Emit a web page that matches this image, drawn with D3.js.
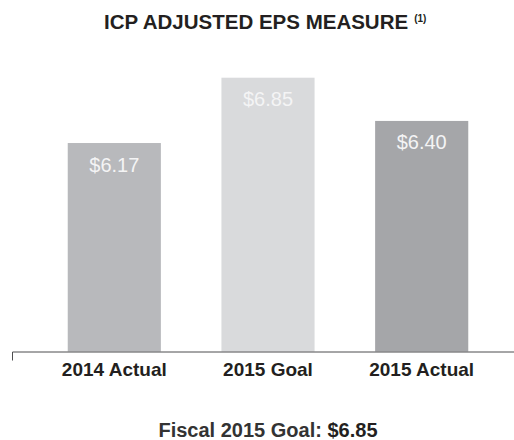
<!DOCTYPE html>
<html>
<head>
<meta charset="utf-8">
<script src="https://cdn.jsdelivr.net/npm/d3@7"></script>
<style>
  body { margin: 0; background: #fff; }
  svg { display: block; font-family: "Liberation Sans", Arial, sans-serif; }
</style>
</head>
<body>
<script>
const categories = ['2014 Actual', '2015 Goal', '2015 Actual'];
const values = [6.17, 6.85, 6.40];
const valueLabels = ['$6.17', '$6.85', '$6.40'];
const barColors = ['#b8b9bc', '#d9dadc', '#a5a6a9'];

const width = 514;
const height = 440;
const baseline = 351.5;

const svg = d3.select('body')
  .append('svg')
  .attr('width', width)
  .attr('height', height);

const xScale = d3.scaleBand()
  .domain(categories)
  .range([37, 499])
  .paddingInner(0.394)
  .paddingOuter(0.2);

const yScale = d3.scaleLinear()
  .domain([4, 6.85])
  .range([baseline, 77.7]);

const color = d3.scaleOrdinal().domain(categories).range(barColors);

svg.append('text')
  .attr('x', 104)
  .attr('y', 29)
  .attr('font-size', 20.5)
  .attr('font-weight', 'bold')
  .attr('fill', '#231f20')
  .text('ICP ADJUSTED EPS MEASURE')
  .append('tspan')
  .attr('dx', 6)
  .attr('dy', -7)
  .attr('font-size', 10)
  .text('(1)');

svg.selectAll('rect.bar').data(values)
  .enter().append('rect')
  .attr('class', 'bar')
  .attr('x', (d, i) => xScale(categories[i]))
  .attr('y', d => yScale(d))
  .attr('width', xScale.bandwidth())
  .attr('height', d => baseline - yScale(d))
  .attr('fill', (d, i) => color(categories[i]));

svg.selectAll('text.value').data(values)
  .enter().append('text')
  .attr('class', 'value')
  .attr('x', (d, i) => xScale(categories[i]) + xScale.bandwidth() / 2)
  .attr('y', d => yScale(d) + 28.5)
  .attr('text-anchor', 'middle')
  .attr('font-size', 20)
  .attr('fill', '#f4f4f5')
  .text((d, i) => valueLabels[i]);

const xAxis = d3.axisBottom(xScale).tickSize(0).tickPadding(0).tickSizeOuter(0);

const axisG = svg.append('g')
  .attr('transform', `translate(0, ${baseline})`)
  .call(xAxis);

axisG.select('.domain').remove();
axisG.append('path')
  .attr('d', `M12.5,9V0.5H514`)
  .attr('fill', 'none')
  .attr('stroke', '#4d4d4f')
  .attr('stroke-width', 1);

axisG.selectAll('.tick text')
  .attr('y', 24)
  .attr('dy', 0)
  .attr('font-size', 19)
  .attr('font-weight', 'bold')
  .attr('font-family', '"Liberation Sans", Arial, sans-serif')
  .attr('fill', '#231f20');

const footer = svg.append('text')
  .attr('x', 268)
  .attr('y', 437)
  .attr('text-anchor', 'middle')
  .attr('font-size', 20)
  .attr('fill', '#231f20');

footer.append('tspan').attr('font-weight', 'bold').attr('fill', '#333').text('Fiscal 2015 Goal: ');
footer.append('tspan').attr('font-weight', 'bold').text('$6.85');
</script>
</body>
</html>
